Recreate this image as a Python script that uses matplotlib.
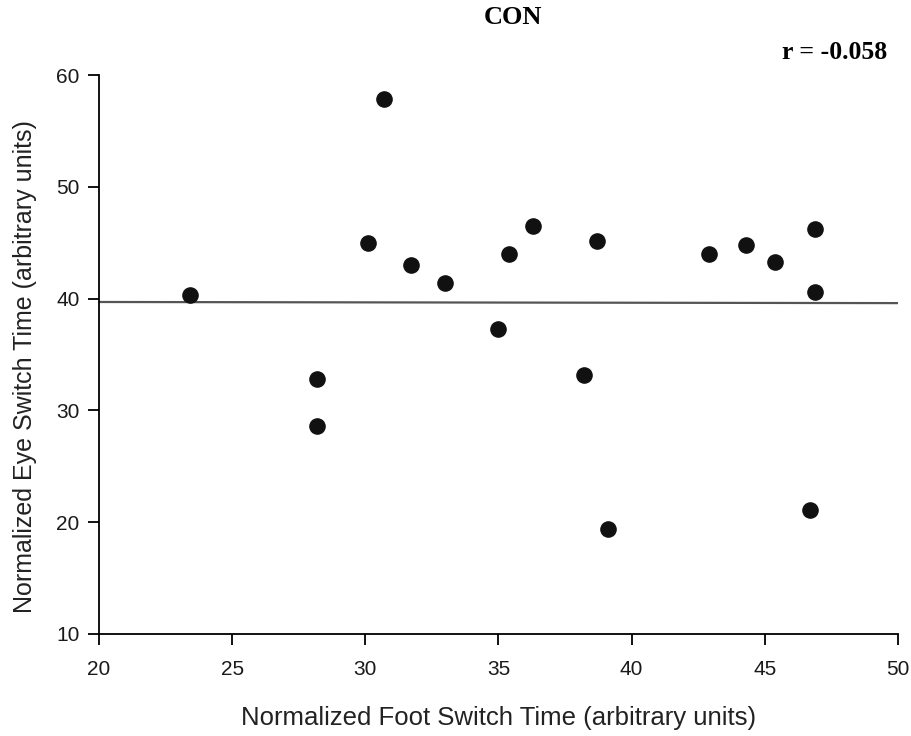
import matplotlib
matplotlib.use('Agg')
import matplotlib.pyplot as plt
import numpy as np

# foot switch time (x) vs eye switch time (y)
foot_time = [23.4, 28.2, 28.2, 30.1, 30.7, 31.7, 33.0, 35.0, 35.4, 36.3,
             38.7, 38.2, 39.1, 42.9, 44.3, 45.4, 46.9, 46.9, 46.7]
eye_time = [40.3, 32.8, 28.6, 45.0, 57.9, 43.0, 41.4, 37.3, 44.0, 46.5,
            45.2, 33.2, 19.4, 44.0, 44.8, 43.3, 46.2, 40.6, 21.1]
fit_x = [20, 50]
fit_y = [39.7, 39.6]
x_ticks = [20, 25, 30, 35, 40, 45, 50]
y_ticks = [10, 20, 30, 40, 50, 60]

sans = 'Liberation Sans'
serif = 'Liberation Serif'

fig = plt.figure(figsize=(9.12, 7.36), dpi=100)
ax = fig.add_axes([0.1086, 0.1386, 0.876, 0.7594])

ax.plot(fit_x, fit_y, color='#555555', linewidth=1.6, zorder=1)
ax.scatter(foot_time, eye_time, s=120, color='#111111', zorder=2)

ax.set_xlim(20, 50)
ax.set_ylim(10, 60)
ax.set_xticks(x_ticks)
ax.set_yticks(y_ticks)
for side in ['top', 'right']:
    ax.spines[side].set_visible(False)
for side in ['left', 'bottom']:
    ax.spines[side].set_linewidth(1.3)
ax.tick_params(direction='out', length=8, width=1.3, labelsize=15,
               labelcolor='#1a1a1a')
ax.tick_params(axis='x', pad=11)
ax.tick_params(axis='y', pad=6)
for lab in ax.get_xticklabels() + ax.get_yticklabels():
    lab.set_family(sans)

ax.set_xlabel('Normalized Foot Switch Time (arbitrary units)', fontsize=18.5,
              family=sans, color='#222222', va='center')
ax.set_ylabel('Normalized Eye Switch Time (arbitrary units)', fontsize=18,
              family=sans, color='#222222', va='center')
ax.xaxis.set_label_coords(0.5, -0.150)
ax.yaxis.set_label_coords(-0.093, 0.478)

fig.text(0.5625, 0.976, 'CON', ha='center', va='center', fontsize=19,
         fontweight='bold', family=serif)
fig.text(0.9155, 0.929, 'r = -0.058', ha='center', va='center', fontsize=18.5,
         fontweight='bold', family=serif)

fig.savefig('out.png', dpi=100)
